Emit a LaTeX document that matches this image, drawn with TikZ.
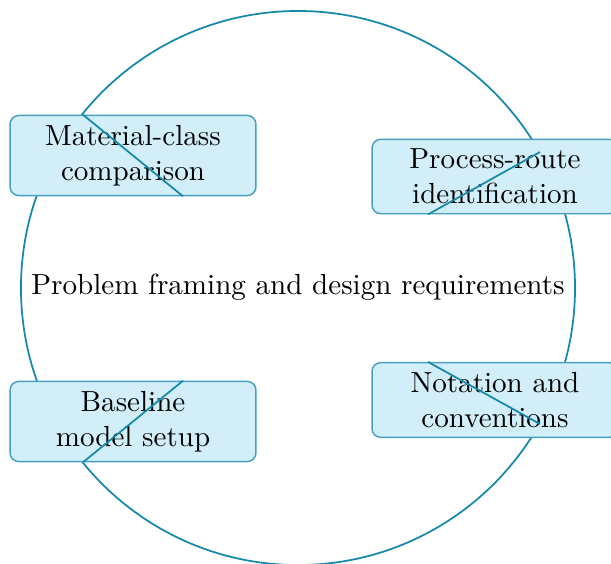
\documentclass[tikz,border=0pt]{standalone}
\usepackage{amsmath}
\usepackage[usenames,dvipsnames]{xcolor}
\usetikzlibrary{calc}
\definecolor{ringblue}{RGB}{22,136,170}
\definecolor{boxfill}{RGB}{210,238,249}
\definecolor{boxedge}{RGB}{70,160,190}
\tikzset{
	stepbox/.style={draw=boxedge, fill=boxfill, rounded corners=3pt, align=center, minimum width=84.6pt, line width=0.5pt},
	ring/.style={draw=ringblue, line width=0.6pt}
}

\begin{document}
\begin{tikzpicture}[x=0.344pt, y=-0.344pt]
		\useasboundingbox (0, 0) rectangle (611, 563);
		\draw[ring] (298, 288) circle[radius=95.3pt];
		\node(hub)[anchor=center] at (298, 287) {Problem framing and design requirements};
		\node(mat)[stepbox] at (133, 155.5) {Material-class\\comparison};
		\node(proc)[stepbox] at (495, 176.5) {Process-route\\identification};
		\node(base)[stepbox] at (133, 421.5) {Baseline\\model setup};
		\node(nota)[stepbox] at (495, 400) {Notation and\\conventions};
		\coordinate (matA) at ($(mat.north)+(-50, 0)$);
		\coordinate (matB) at ($(mat.south)+(50, 0)$);
		\coordinate (procA) at ($(proc.south)+(-67, 0)$);
		\coordinate (procB) at (540, 152);
		\coordinate (baseA) at ($(base.south)+(-50, 0)$);
		\coordinate (baseB) at ($(base.north)+(50, 0)$);
		\coordinate (notaA) at ($(nota.north)+(-67, 0)$);
		\coordinate (notaB) at (540, 424);
		\draw[ring] (matA) -- (matB);
		\draw[ring] (procA) -- (procB);
		\draw[ring] (baseA) -- (baseB);
		\draw[ring] (notaA) -- (notaB);
\end{tikzpicture}
\end{document}
